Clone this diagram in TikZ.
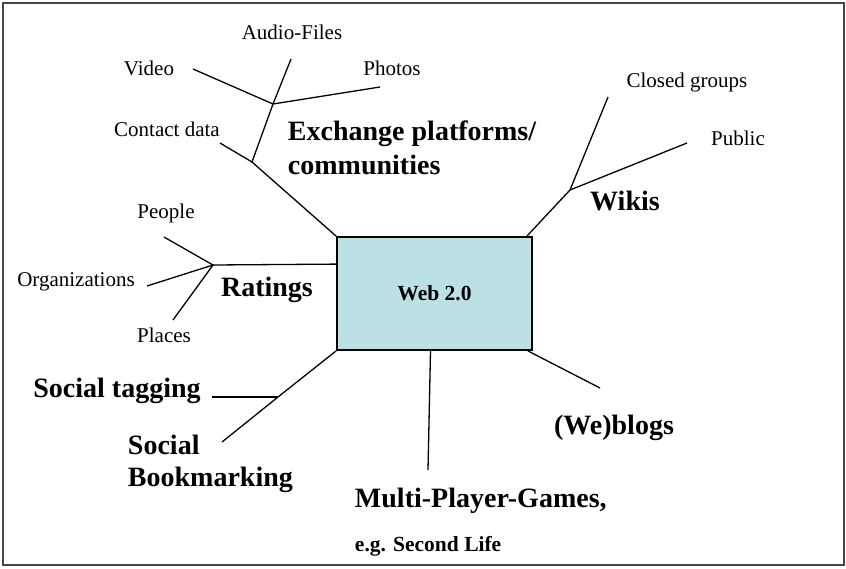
\documentclass[tikz,border=0pt]{standalone}
\usepackage{fontspec}
\setmainfont{Liberation Serif}
\definecolor{boxfill}{RGB}{188,225,229}
\definecolor{framegray}{RGB}{70,70,70}

\begin{document}
\begin{tikzpicture}[x=1pt, y=-1pt, line width=1.3pt,
    leaf/.style={font=\fontsize{21}{24}\selectfont},
    topic/.style={font=\fontsize{28}{32}\selectfont\bfseries, align=left}]

    \useasboundingbox (0,0) rectangle (846,568);
    % outer frame
    \draw[framegray, line width=2pt] (3,3) rectangle (844,565);

    % the central box
    \node[draw, fill=boxfill, line width=1.8pt, minimum width=195pt, minimum height=113pt,
      font=\fontsize{21.5}{24}\selectfont\bfseries] (web) at (434.5,293.5) {Web 2.0};

    % exchange platforms, with a fork for the media types
    \coordinate (exlow) at (252,162);
    \coordinate (exhigh) at (273,104);
    \coordinate (contactend) at (220,143);
    \coordinate (videoend) at (193,69);
    \coordinate (audioend) at (291,59);
    \coordinate (photosend) at (380,87);
    \draw (web.north west) -- (exlow) -- (exhigh) -- (audioend);
    \draw (contactend) -- (exlow);
    \draw (videoend) -- (exhigh) -- (photosend);
    \node[leaf] (audio) at (292,32) {Audio-Files};
    \node[leaf] (video) at (149,68) {Video};
    \node[leaf] (photos) at (392,68) {Photos};
    \node[leaf] (contact) at (167,129) {Contact data};
    \node[topic, anchor=west, font=\fontsize{28}{34}\selectfont\bfseries] (exchange) at (284,148)
      {Exchange platforms/\\communities};

    % wikis
    \coordinate (wikifork) at (570,190);
    \coordinate (closedend) at (608,97);
    \coordinate (publicend) at (687,143);
    \draw ([xshift=-6pt]web.north east) -- (wikifork) -- (closedend);
    \draw (wikifork) -- (publicend);
    \node[leaf] (closed) at (687,82) {Closed groups};
    \node[leaf] (public) at (738,138) {Public};
    \node[topic] (wikis) at (625,201) {Wikis};

    % ratings
    \coordinate (ratefork) at (213,265);
    \coordinate (peopleend) at (164,237);
    \coordinate (orgend) at (147,286);
    \coordinate (placesend) at (173,320);
    \draw ([yshift=-28pt]web.north west) -- (ratefork);
    \draw (peopleend) -- (ratefork) -- (orgend);
    \draw (ratefork) -- (placesend);
    \node[leaf] (people) at (166,213) {People};
    \node[leaf] (orgs) at (76,282) {Organizations};
    \node[leaf] (places) at (164,335) {Places};
    \node[topic] (ratings) at (267,290) {Ratings};

    % social tagging and bookmarking
    \coordinate (tagfork) at (278,397);
    \coordinate (tagend) at (212,397);
    \coordinate (bookend) at (222,442);
    \draw (web.south west) -- (tagfork) -- (bookend);
    \draw (tagfork) -- (tagend);
    \node[topic] (tagging) at (117,391) {Social tagging};
    \node[topic, anchor=west] (bookmarking) at (124,464) {Social\\Bookmarking};

    % games and blogs
    \coordinate (gamesend) at (428,470);
    \coordinate (blogsend) at (600,388);
    \draw ([xshift=-4pt]web.south) -- (gamesend);
    \draw ([xshift=-5pt]web.south east) -- (blogsend);
    \node[topic, anchor=west] (games) at (351,501) {Multi-Player-Games,};
    \node[anchor=west, font=\fontsize{21.5}{24}\selectfont\bfseries] (secondlife) at (351,546) {e.g. Second Life};
    \node[topic] (blogs) at (614,428) {(We)blogs};

\end{tikzpicture}
\end{document}
